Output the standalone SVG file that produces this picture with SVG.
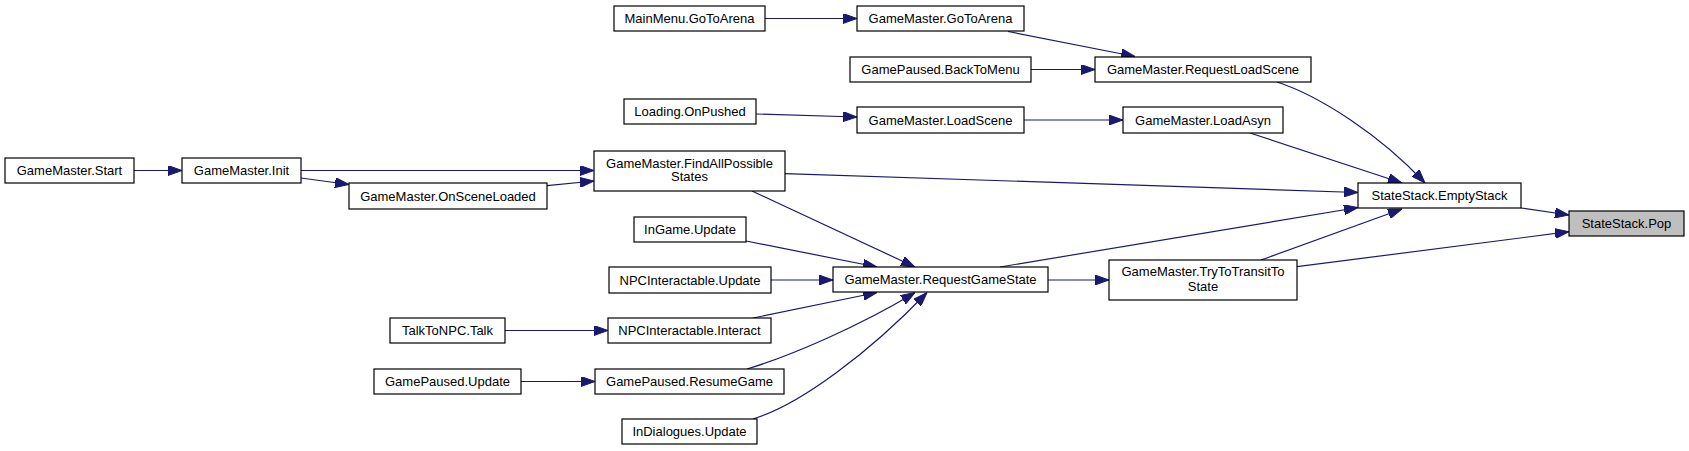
<svg xmlns="http://www.w3.org/2000/svg" width="1689" height="451" viewBox="0 0 1689 451">
<style>
.n rect{fill:#fff;stroke:#000;stroke-width:1.2}
.n.hl rect{fill:#bfbfbf}
.n text{font-family:"Liberation Sans",Arial,sans-serif;font-size:13px;fill:#000;text-anchor:middle}
.e path{fill:none;stroke:#191970;stroke-width:1.2;marker-end:url(#ah)}
</style>
<defs>
<marker id="ah" markerUnits="userSpaceOnUse" markerWidth="14" markerHeight="10" refX="14" refY="5" orient="auto">
<path d="M0,0 L14,5 L0,10 z" fill="#191970" stroke="#191970" stroke-width="1"/>
</marker>
</defs>
<rect width="1689" height="451" fill="#fff"/>
<g id="connectors" class="e">
<path d="M134,170.5 L182,170.5"/>
<path d="M301,170.5 L594,170.5"/>
<path d="M301,178 L349,184.5"/>
<path d="M547,185.7 L594,181"/>
<path d="M765,18.5 L857,18.5"/>
<path d="M1008,31.5 L1135,56.5"/>
<path d="M1031,69.5 L1095,69.5"/>
<path d="M756,114 L857,117"/>
<path d="M1024,120 L1123,120"/>
<path d="M1277,82 C1320,96 1380,135 1425,183"/>
<path d="M1250,133 L1402,183"/>
<path d="M785,173.7 C950,180 1200,186 1358,192.5"/>
<path d="M752,191 L915,267"/>
<path d="M746,241 L877,267"/>
<path d="M771,280 L833,280"/>
<path d="M753,318 L877,292.5"/>
<path d="M747,369 C790,356 860,326 915,292.5"/>
<path d="M753,419 C800,405 870,352 927,292.5"/>
<path d="M505,330.5 L608,330.5"/>
<path d="M521,381.5 L595,381.5"/>
<path d="M1048,280 L1109,280"/>
<path d="M1000,267 L1358,207.5"/>
<path d="M1261,260 L1402,209"/>
<path d="M1521,208 L1569,215"/>
<path d="M1297,266.7 L1569,231.7"/>
</g>
<g id="n_start" class="n"><rect x="5" y="158" width="129" height="25"/><text x="69.5" y="175">GameMaster.Start</text></g>
<g id="n_init" class="n"><rect x="182" y="158" width="119" height="25"/><text x="241.5" y="175">GameMaster.Init</text></g>
<g id="n_onsceneloaded" class="n"><rect x="349" y="183" width="198" height="26"/><text x="448" y="200.5">GameMaster.OnSceneLoaded</text></g>
<g id="n_findall" class="n"><rect x="594" y="151" width="191" height="40"/><text x="689.5" y="167.5">GameMaster.FindAllPossible</text><text x="689.5" y="181">States</text></g>
<g id="n_mainmenu_gotoarena" class="n"><rect x="614" y="6" width="151" height="25"/><text x="689.5" y="23">MainMenu.GoToArena</text></g>
<g id="n_gm_gotoarena" class="n"><rect x="857" y="6" width="167" height="25"/><text x="940.5" y="23">GameMaster.GoToArena</text></g>
<g id="n_backtomenu" class="n"><rect x="850" y="57" width="181" height="25"/><text x="940.5" y="74">GamePaused.BackToMenu</text></g>
<g id="n_requestloadscene" class="n"><rect x="1095" y="57" width="216" height="25"/><text x="1203" y="74">GameMaster.RequestLoadScene</text></g>
<g id="n_onpushed" class="n"><rect x="624" y="99" width="132" height="25"/><text x="690" y="116">Loading.OnPushed</text></g>
<g id="n_loadscene" class="n"><rect x="857" y="107" width="167" height="26"/><text x="940.5" y="124.5">GameMaster.LoadScene</text></g>
<g id="n_loadasyn" class="n"><rect x="1123" y="107" width="160" height="26"/><text x="1203" y="124.5">GameMaster.LoadAsyn</text></g>
<g id="n_emptystack" class="n"><rect x="1358" y="183" width="163" height="25"/><text x="1439.5" y="200">StateStack.EmptyStack</text></g>
<g id="n_pop" class="n hl"><rect x="1569" y="211" width="115" height="25"/><text x="1626.5" y="228">StateStack.Pop</text></g>
<g id="n_ingame_update" class="n"><rect x="634" y="217" width="112" height="25"/><text x="690" y="234">InGame.Update</text></g>
<g id="n_npc_update" class="n"><rect x="609" y="267" width="162" height="26"/><text x="690" y="284.5">NPCInteractable.Update</text></g>
<g id="n_requestgamestate" class="n"><rect x="833" y="267" width="215" height="25"/><text x="940.5" y="284">GameMaster.RequestGameState</text></g>
<g id="n_trytotransit" class="n"><rect x="1109" y="260" width="188" height="40"/><text x="1203" y="276">GameMaster.TryToTransitTo</text><text x="1203" y="290.5">State</text></g>
<g id="n_talktonpc" class="n"><rect x="390" y="318" width="115" height="25"/><text x="447.5" y="335">TalkToNPC.Talk</text></g>
<g id="n_npc_interact" class="n"><rect x="608" y="318" width="163" height="25"/><text x="689.5" y="335">NPCInteractable.Interact</text></g>
<g id="n_gamepaused_update" class="n"><rect x="374" y="369" width="147" height="25"/><text x="447.5" y="386">GamePaused.Update</text></g>
<g id="n_resumegame" class="n"><rect x="595" y="369" width="189" height="25"/><text x="689.5" y="386">GamePaused.ResumeGame</text></g>
<g id="n_indialogues" class="n"><rect x="622" y="419" width="135" height="25"/><text x="689.5" y="436">InDialogues.Update</text></g>
</svg>
